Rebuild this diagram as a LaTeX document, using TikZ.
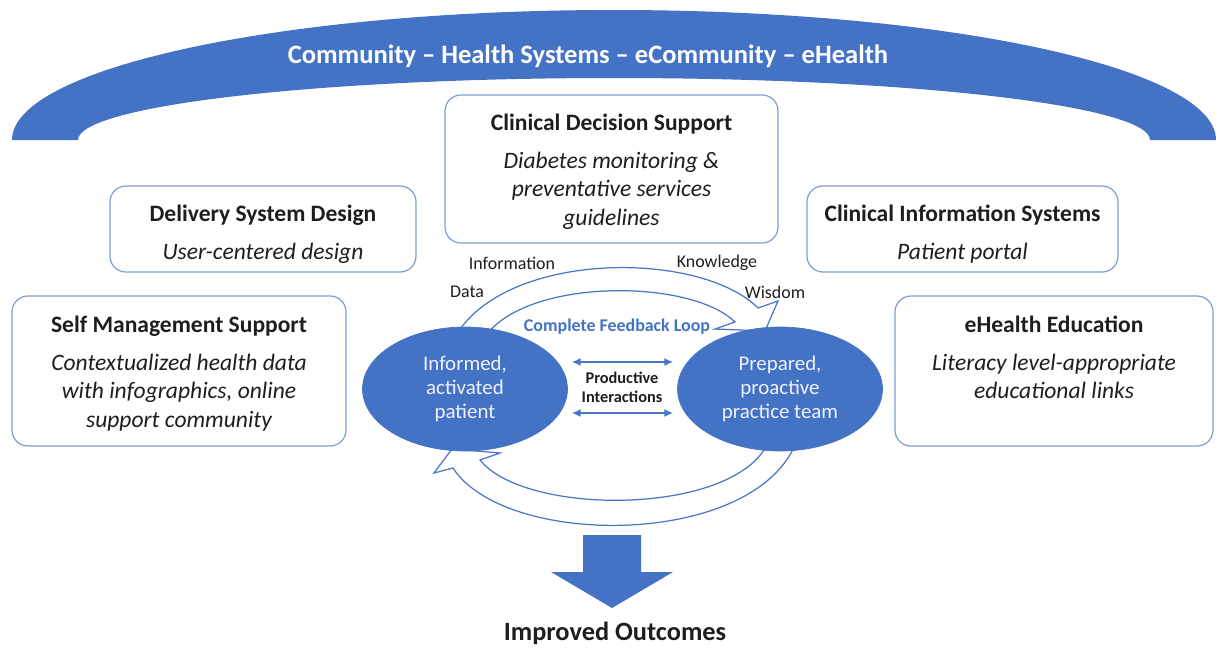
\documentclass[tikz,border=0pt]{standalone}
\usepackage{fontspec}
\setmainfont{Carlito}
\usepackage{tikz}
\usetikzlibrary{arrows.meta,positioning,calc,shapes.geometric}
\definecolor{Office}{HTML}{4472C4}
\definecolor{Frame}{HTML}{7E9ED6}
\definecolor{LoopBlue}{HTML}{4A76C6}
\definecolor{Ink}{HTML}{1E1E1E}
\definecolor{Pale}{HTML}{EEF2FA}

\begin{document}
\begin{tikzpicture}[x=0.02cm,y=-0.02cm,
  box/.style={draw=Frame,line width=0.7pt,rounded corners=9pt,fill=white,inner sep=0pt},
  boxhead/.style={font=\fontsize{13.4}{16.4}\selectfont\bfseries,text=Ink,inner sep=0pt,anchor=base},
  boxbody/.style={font=\fontsize{13.4}{16.4}\selectfont\itshape,text=Ink,align=center,inner sep=0pt,anchor=north},
  oval/.style={ellipse,fill=Office,draw=Office,minimum width=4.1cm,minimum height=2.48cm,
    inner sep=0pt,align=center,text=Pale,font=\fontsize{11.9}{13.6}\selectfont},
  tag/.style={font=\fontsize{10.2}{12}\selectfont,text=Ink},
  loopline/.style={draw=LoopBlue,line width=0.7pt,fill=white,line join=miter},
  dbl/.style={LoopBlue,line width=0.8pt,{Latex[length=5pt,width=4.5pt]}-{Latex[length=5pt,width=4.5pt]}}
]
\useasboundingbox (0,0) rectangle (1216,649);

% arch on top
\fill[Office] (12,140) arc[start angle=180,end angle=360,x radius=602,y radius=130]
  -- (1150,140) arc[start angle=360,end angle=180,x radius=536,y radius=62] -- cycle;
\node[font=\fontsize{15.1}{17}\selectfont\bfseries,text=white] (arch) at (588,56)
  {Community – Health Systems – eCommunity – eHealth};

% the five boxes
\node[box,minimum width=6.66cm,minimum height=2.96cm] (cds) at (611.5,169) {};
\node[boxhead] (cds-h) at ($(cds.north)+(0,36)$) {Clinical Decision Support};
\node[boxbody] (cds-b) at ($(cds.north)+(0,57)$) {Diabetes monitoring \&\\preventative services\\guidelines};

\node[box,minimum width=6.12cm,minimum height=1.72cm] (dsd) at (263,229) {};
\node[boxhead] (dsd-h) at ($(dsd.north)+(0,36)$) {Delivery System Design};
\node[boxbody] (dsd-b) at ($(dsd.north)+(0,57)$) {User-centered design};

\node[box,minimum width=6.22cm,minimum height=1.72cm] (cis) at (962.5,229) {};
\node[boxhead] (cis-h) at ($(cis.north)+(0,36)$) {Clinical Information Systems};
\node[boxbody] (cis-b) at ($(cis.north)+(0,57)$) {Patient portal};

\node[box,minimum width=6.68cm,minimum height=3cm] (sms) at (179,371) {};
\node[boxhead] (sms-h) at ($(sms.north)+(0,37)$) {Self Management Support};
\node[boxbody] (sms-b) at ($(sms.north)+(0,58)$) {Contextualized health data\\with infographics, online\\support community};

\node[box,minimum width=6.36cm,minimum height=3cm] (ehe) at (1054,371) {};
\node[boxhead] (ehe-h) at ($(ehe.north)+(0,37)$) {eHealth Education};
\node[boxbody] (ehe-b) at ($(ehe.north)+(0,58)$) {Literacy level-appropriate\\educational links};

% feedback loop
\draw[loopline] (455,337) .. controls (505,250) and (700,250) .. (758,308)
  -- (778,301) -- (765,331) -- (715,329) -- (735,322)
  .. controls (690,278) and (525,278) .. (485,337) -- cycle;
\draw[loopline] (795,445) .. controls (750,548) and (505,548) .. (453,468)
  -- (434,473) -- (452,449) -- (500,453) -- (480,460)
  .. controls (525,516) and (730,516) .. (767,445) -- cycle;

\node[tag] (info) at (512,263) {Information};
\node[tag] (know) at (717,263) {Knowledge};
\node[tag] (data) at (467,292) {Data};
\node[tag] (wis) at (775,292) {Wisdom};
\node[font=\fontsize{10.2}{12}\selectfont\bfseries,text=Office] (cfl) at (617,327) {Complete Feedback Loop};

\node[oval] (pat) at (465,389) {Informed,\\activated\\patient};
\node[oval] (team) at (780,389) {Prepared,\\proactive\\practice team};

\draw[dbl] ([shift={(4,-27)}]pat.east) -- ([shift={(-4,-27)}]team.west);
\draw[dbl] ([shift={(4,24)}]pat.east) -- ([shift={(-4,24)}]team.west);
\node[font=\fontsize{9.3}{10.8}\selectfont\bfseries,text=Ink,align=center] (pi) at (622,387)
  {Productive\\Interactions};

% outcome arrow
\fill[Office] (583,535) -- (641,535) -- (641,572) -- (673,572) -- (612,608)
  -- (551,572) -- (583,572) -- cycle;
\node[font=\fontsize{15}{17}\selectfont\bfseries,text=Ink] (out) at (615,633) {Improved Outcomes};
\end{tikzpicture}
\end{document}
